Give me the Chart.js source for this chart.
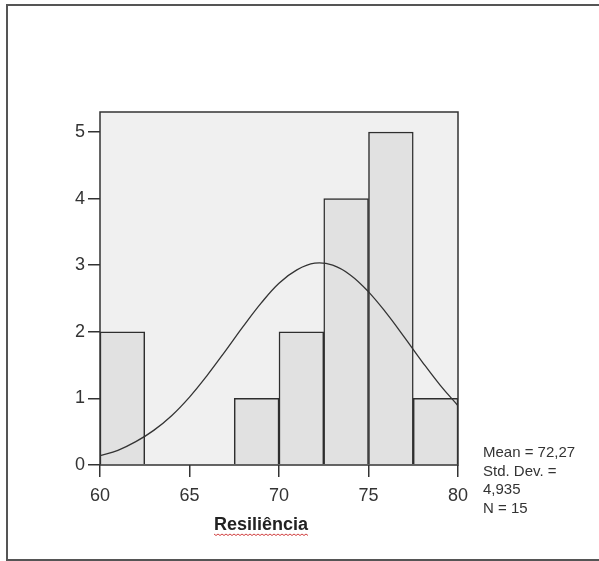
<!DOCTYPE html>
<html>
<head>
<meta charset="utf-8">
<script src="https://cdn.jsdelivr.net/npm/chart.js@4.4.0/dist/chart.umd.min.js"></script>
<style>
  html, body { margin: 0; padding: 0; background: #fff; overflow: hidden; }
  #frame {
    position: absolute; left: 6px; top: 4px; width: 620px; height: 553px;
    border: 2px solid #555; border-right: none;
  }
  canvas { position: absolute; left: 0; top: 0; }
</style>
</head>
<body>
<div id="frame"></div>
<canvas id="histChart" width="599" height="561"></canvas>
<script>
// Histograma (classes de 2,5)
const binCenters = [61.25, 63.75, 66.25, 68.75, 71.25, 73.75, 76.25, 78.75];
const counts = [2, 0, 0, 1, 2, 4, 5, 1];

// Curva normal
const curveX = [60, 61, 62, 63, 64, 65, 66, 67, 68, 69, 70, 71, 72, 73, 74, 75, 76, 77, 78, 79, 80];
const curveY = [0.14, 0.22, 0.35, 0.52, 0.74, 1.02, 1.35, 1.71, 2.08, 2.43, 2.73, 2.93, 3.03, 3.0, 2.85, 2.6, 2.28, 1.92, 1.55, 1.2, 0.89];

const yTickValues = [0, 1, 2, 3, 4, 5];
const statLines = ['Mean = 72,27', 'Std. Dev. =', '4,935', 'N = 15'];
const xTitle = 'Resiliência';

const FONT = "'Liberation Sans', Arial, sans-serif";

// fundo e moldura da área do gráfico + textos extra
const plotDecor = {
    id: 'plotDecor',
    beforeDraw(chart) {
        const { ctx, chartArea: a } = chart;
        ctx.save();
        ctx.fillStyle = '#f0f0f0';
        ctx.fillRect(a.left, a.top, a.right - a.left, a.bottom - a.top);
        ctx.restore();
    },
    afterDraw(chart) {
        const { ctx, chartArea: a } = chart;
        ctx.save();
        ctx.strokeStyle = '#333';
        ctx.lineWidth = 1.5;
        ctx.strokeRect(a.left, a.top, a.right - a.left, a.bottom - a.top);

        // título do eixo x
        ctx.fillStyle = '#222';
        ctx.font = 'bold 18px ' + FONT;
        ctx.textBaseline = 'middle';
        ctx.textAlign = 'left';
        const tx = a.left + 114, ty = a.bottom + 60;
        ctx.fillText(xTitle, tx, ty);
        const tw = ctx.measureText(xTitle).width;
        // sublinhado ondulado (corretor ortográfico)
        ctx.strokeStyle = '#d04040';
        ctx.lineWidth = 1;
        ctx.beginPath();
        for (let i = 0; i <= tw; i += 2) {
            const yy = ty + 9 + ((i / 2) % 2 === 0 ? 0 : 1.5);
            if (i === 0) ctx.moveTo(tx + i, yy); else ctx.lineTo(tx + i, yy);
        }
        ctx.stroke();

        // estatísticas
        ctx.fillStyle = '#333';
        ctx.font = '15px ' + FONT;
        statLines.forEach((s, i) => {
            ctx.fillText(s, a.right + 25, a.bottom - 12 + i * 18.5);
        });
        ctx.restore();
    }
};

new Chart(document.getElementById('histChart').getContext('2d'), {
    type: 'bar',
    data: {
        datasets: [
            {
                type: 'line',
                data: curveX.map((x, i) => ({ x: x, y: curveY[i] })),
                borderColor: '#333',
                borderWidth: 1.3,
                pointRadius: 0,
                tension: 0.4,
                fill: false,
                order: 0
            },
            {
                type: 'bar',
                data: binCenters.map((x, i) => ({ x: x, y: counts[i] })),
                backgroundColor: '#e1e1e1',
                borderColor: '#2e2e2e',
                borderWidth: 1.5,
                borderSkipped: 'bottom',
                barPercentage: 1,
                categoryPercentage: 1,
                order: 1
            }
        ]
    },
    options: {
        responsive: false,
        animation: false,
        layout: { padding: { left: 0, top: 112, right: 141, bottom: 0 } },
        plugins: { legend: { display: false }, tooltip: { enabled: false } },
        scales: {
            x: {
                type: 'linear',
                min: 60,
                max: 80,
                offset: false,
                afterFit: s => { s.height = 96; },
                grid: { offset: false, drawOnChartArea: false, tickLength: 12, color: '#333', lineWidth: 1.5 },
                border: { display: false },
                ticks: { stepSize: 5, padding: 8, color: '#333', font: { family: FONT, size: 18 } }
            },
            y: {
                min: 0,
                max: 5.3,
                afterFit: s => { s.width = 100; },
                afterBuildTicks: s => { s.ticks = yTickValues.map(v => ({ value: v })); },
                grid: { drawOnChartArea: false, tickLength: 12, color: '#333', lineWidth: 1.5 },
                border: { display: false },
                ticks: { padding: 3, color: '#333', font: { family: FONT, size: 18 } }
            }
        }
    },
    plugins: [plotDecor]
});
</script>
</body>
</html>
